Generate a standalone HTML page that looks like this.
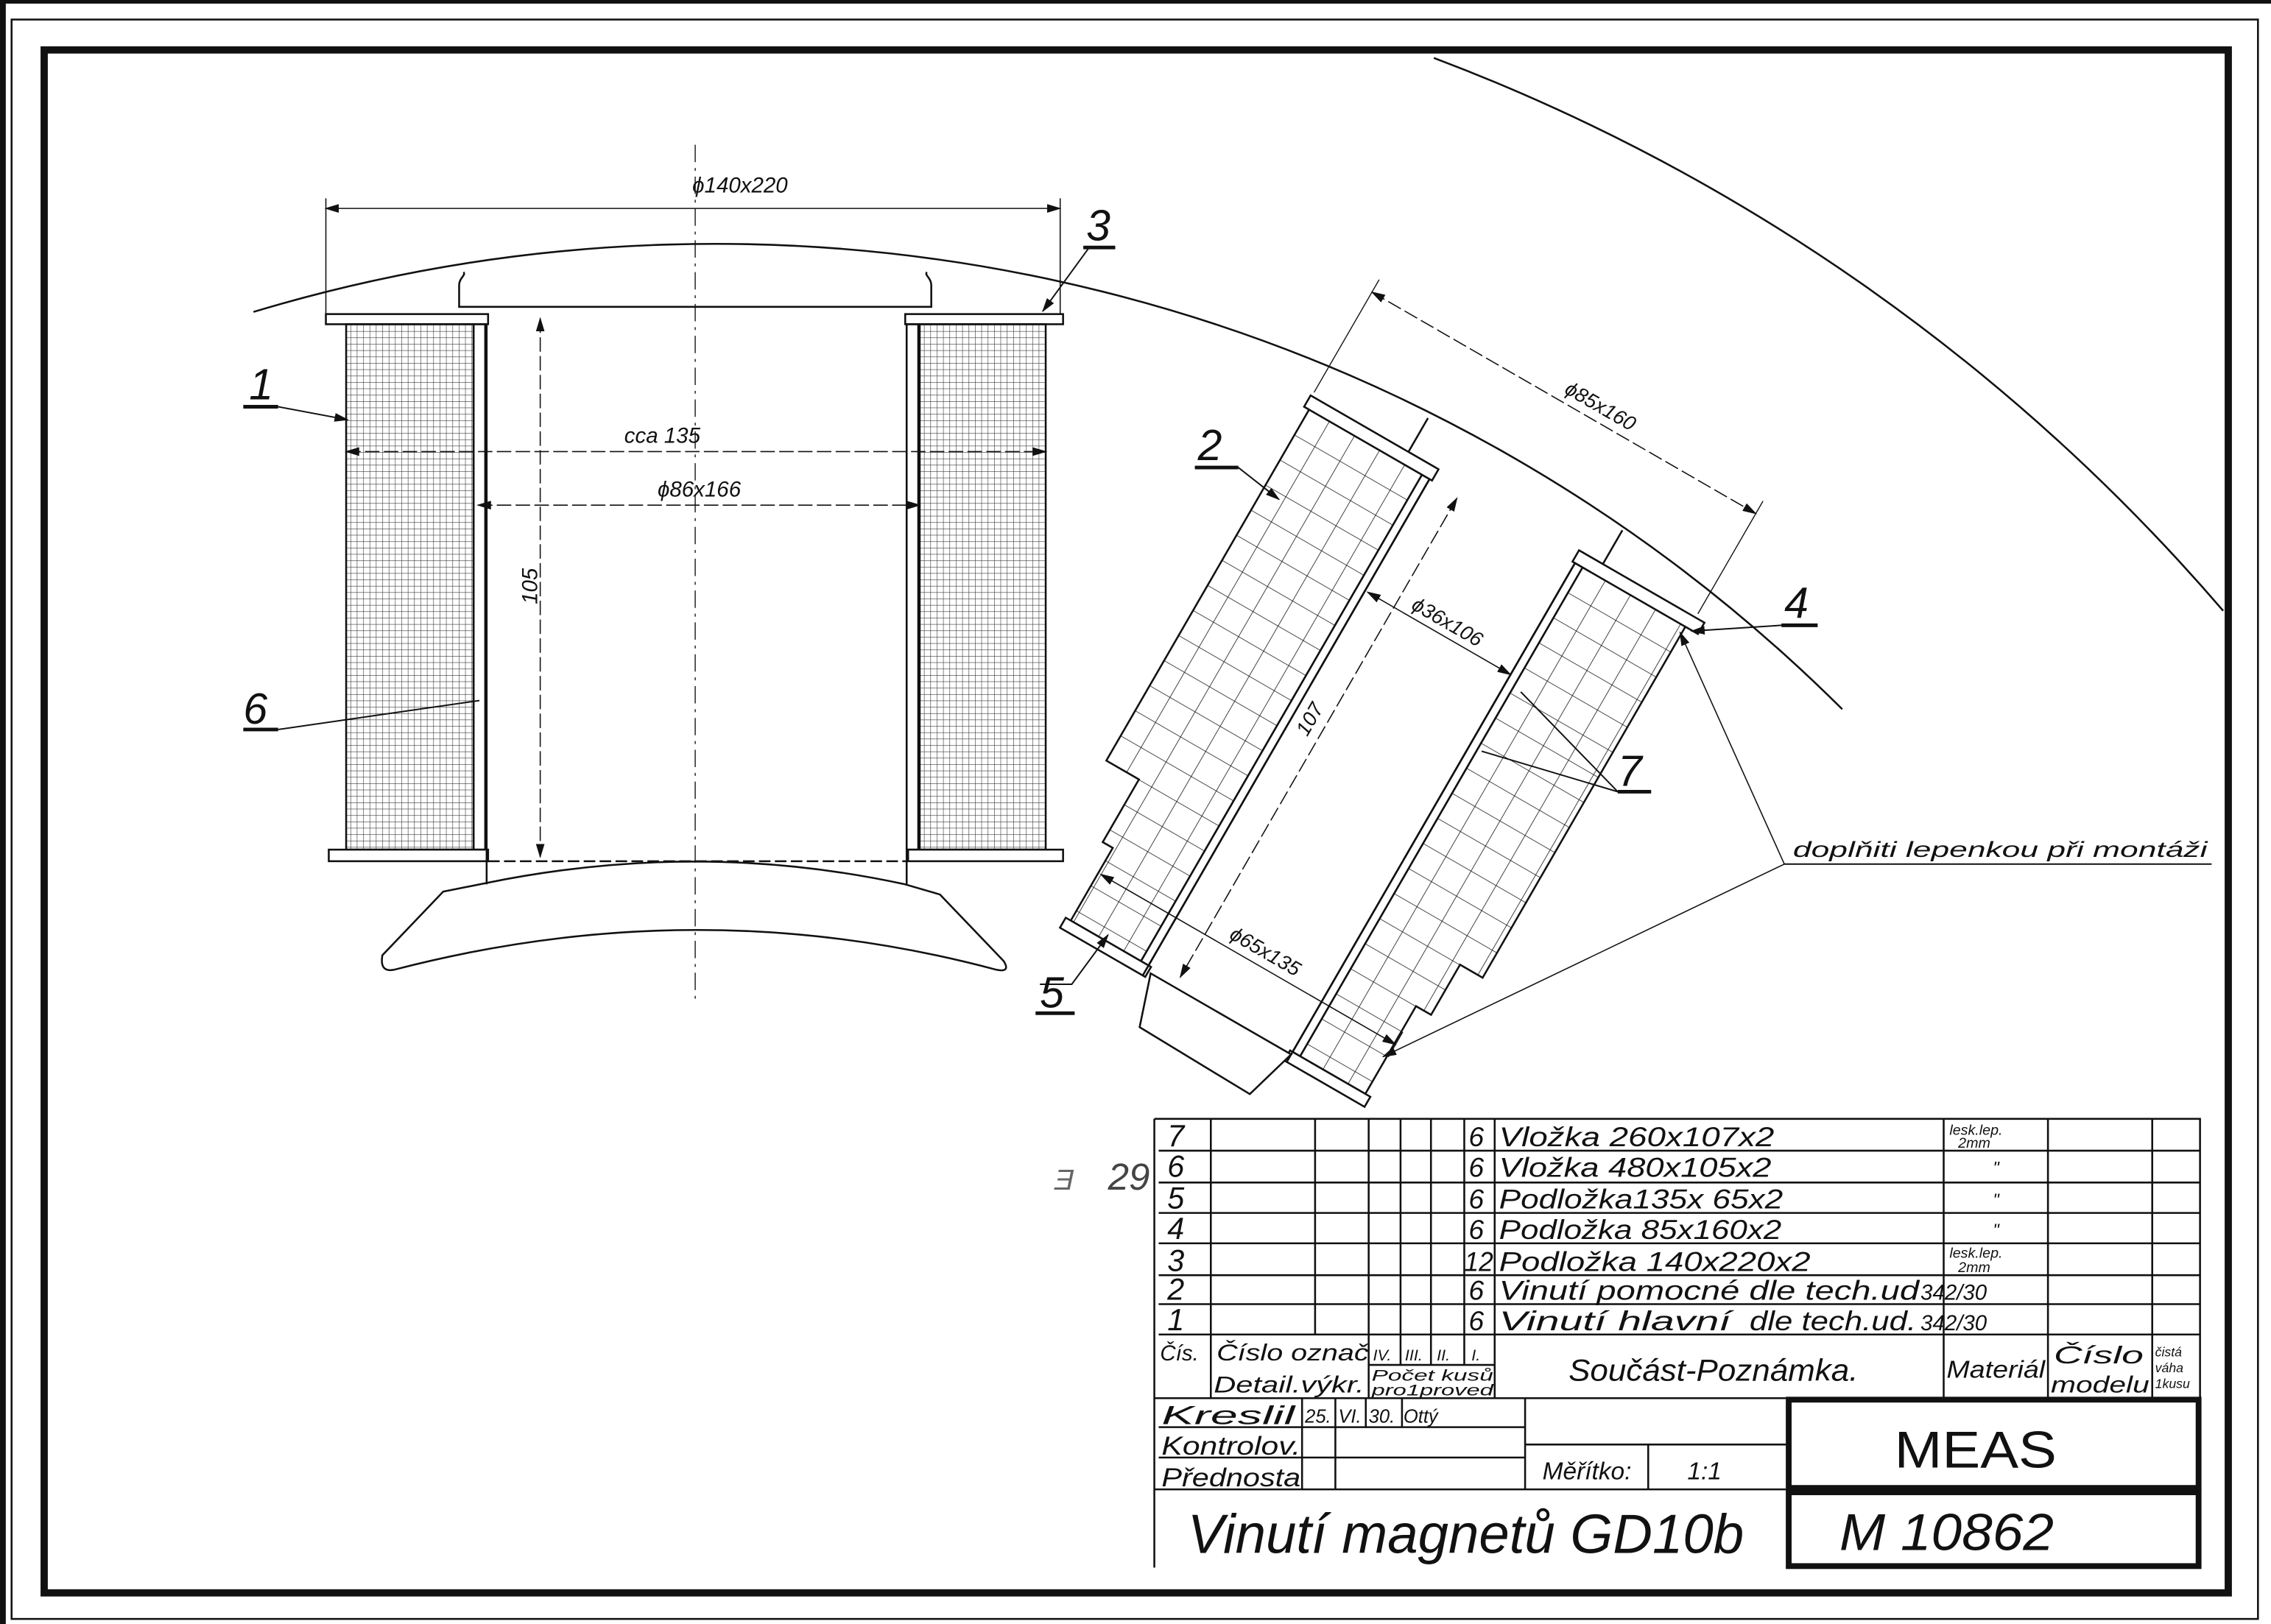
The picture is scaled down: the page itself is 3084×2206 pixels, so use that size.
<!DOCTYPE html>
<html><head><meta charset="utf-8">
<style>
html,body{margin:0;padding:0;background:#fff;}
svg{display:block;}
text{font-family:"Liberation Sans",sans-serif;font-style:italic;fill:#111;}
</style></head>
<body>
<svg xmlns="http://www.w3.org/2000/svg" width="3084" height="2206" viewBox="0 0 1568 1122" preserveAspectRatio="none">
<defs>
<pattern id="fine" width="4.4" height="4.4" patternUnits="userSpaceOnUse">
<rect width="4.4" height="4.4" fill="#fff"/>
<path d="M0 0H4.4M0 0V4.4" stroke="#333" stroke-width="0.6"/>
</pattern>
<pattern id="big" width="20" height="20" patternUnits="userSpaceOnUse" x="0" y="0">
<rect width="20" height="20" fill="#fff"/>
<path d="M0 0H20M0 0V20" stroke="#111" stroke-width="0.8"/>
</pattern>
<marker id="ar" markerWidth="10" markerHeight="8" refX="9" refY="4" orient="auto" markerUnits="userSpaceOnUse">
<path d="M0 1 L10 4 L0 7 z" fill="#111"/>
</marker>
<marker id="as" markerWidth="10" markerHeight="8" refX="1" refY="4" orient="auto" markerUnits="userSpaceOnUse">
<path d="M10 1 L0 4 L10 7 z" fill="#111"/>
</marker>
</defs>
<rect width="1568" height="1122" fill="#fff"/>
<rect x="0" y="0" width="1568" height="2.5" fill="#111"/>
<rect x="0" y="0" width="4" height="1122" fill="#111"/>
<rect x="8" y="13.5" width="1551" height="1105" fill="none" stroke="#111" stroke-width="1.3"/>
<rect x="30.5" y="34.5" width="1508" height="1066" fill="none" stroke="#111" stroke-width="5"/>

<g fill="none" stroke="#111" stroke-width="1.3">
<path d="M175 215.5 A1103 1103 0 0 1 1272 490"/>
<path d="M990 40 A1345 1345 0 0 1 1535 422"/>
<path d="M480 100 V690" stroke-dasharray="12 4 2 4" stroke-width="0.7"/>

<path d="M317 197 C317 192 322 190 320 188 M317 197 V212 H643 V197 M643 197 C643 192 638 190 640 188"/>
<rect x="225" y="217" width="112" height="7" fill="#fff"/>
<rect x="625" y="217" width="109" height="7" fill="#fff"/>
<rect x="239" y="224" width="88" height="363" fill="url(#fine)"/>
<rect x="635" y="224" width="87" height="363" fill="url(#fine)"/>
<rect x="327" y="224" width="8" height="363"/>
<rect x="626" y="224" width="8" height="363"/>
<rect x="227" y="587" width="110" height="8" fill="#fff"/>
<rect x="627" y="587" width="107" height="8" fill="#fff"/>
<path d="M336 224 V611 M626 224 V611"/>
<path d="M337 595 H626" stroke-dasharray="8 3"/>
<path d="M336 610 Q483 580 625 611 L649 618 L693 664 Q698 672 688 670 Q483 615 272 670 Q262 672 264 660 L306 616 Z"/>
<path d="M225 144 H732" marker-start="url(#as)" marker-end="url(#ar)" stroke-width="0.8"/>
<path d="M225 137 V217 M732 137 V217" stroke-width="0.8"/>
<path d="M239 312 H722" marker-start="url(#as)" marker-end="url(#ar)" stroke-width="0.8" stroke-dasharray="10 3"/>
<path d="M330 349 H635" marker-start="url(#as)" marker-end="url(#ar)" stroke-width="0.8" stroke-dasharray="10 3"/>
<path d="M373 220 V592" marker-start="url(#as)" marker-end="url(#ar)" stroke-width="0.8" stroke-dasharray="10 3"/>
<path d="M168 281 H192 L240 290" marker-end="url(#ar)" stroke-width="1"/>
<path d="M168 504 H192 L331 484" stroke-width="1"/>
<path d="M748 171 H770 M752 171 L720 215" marker-end="url(#ar)" stroke-width="1"/>

<g transform="translate(987 331) rotate(30)">
<path d="M-22 -36 V-9 H0 M133 -36 V-9 H116"/>
<polygon points="-96,0 -6,0 -6,388 -62,388 -62,330 -70,330 -70,280 -96,280" fill="url(#big)"/>
<polygon points="122,0 204,0 204,280 186,280 186,320 174,320 174,390 122,390" fill="url(#big)"/>
<rect x="-6" y="0" width="6" height="388" fill="#fff"/>
<rect x="116" y="0" width="6" height="390" fill="#fff"/>
<rect x="-100" y="-9" width="102" height="9" fill="#fff"/>
<rect x="114" y="-9" width="100" height="9" fill="#fff"/>
<rect x="-66" y="388" width="68" height="8" fill="#fff"/>
<rect x="114" y="390" width="64" height="8" fill="#fff"/>
<path d="M0 0 V396 M116 0 V398"/>
<polygon points="4,392 16,428 105,430 116,392" fill="#fff"/>
<path d="M-99 -12 V-102 M207 -12 V-102" stroke-width="0.7"/>
<path d="M-99 -92 H207" marker-start="url(#as)" marker-end="url(#ar)" stroke-width="0.8" stroke-dasharray="10 3"/>
<path d="M23 2 V384" marker-start="url(#as)" marker-end="url(#ar)" stroke-width="0.8" stroke-dasharray="10 3"/>
<path d="M2 89 H116" marker-start="url(#as)" marker-end="url(#ar)" stroke-width="0.8"/>
<path d="M-60 350 H175" marker-start="url(#as)" marker-end="url(#ar)" stroke-width="0.8"/>
<path d="M-62 335 V360 M175 340 V360" stroke-width="0.7"/>
<text x="77" y="-98" font-size="14" text-anchor="middle" stroke="none">ϕ85x160</text>
<text x="60" y="84" font-size="14" text-anchor="middle" stroke="none">ϕ36x106</text>
<text x="65" y="344" font-size="14" text-anchor="middle" stroke="none">ϕ65x135</text>
<text transform="translate(16 185) rotate(-90)" font-size="14" text-anchor="middle" stroke="none">107</text>
</g>
<path d="M825 323 H855 L883 345" marker-end="url(#ar)" stroke-width="1"/>
<path d="M1252 432 H1230 L1168 436" marker-end="url(#ar)" stroke-width="1"/>
<path d="M1140 547 H1117 L1023 519 M1117 547 L1050 478" stroke-width="1"/>
<path d="M765 646 L740 680 H718" marker-start="url(#as)" stroke-width="1"/>
<path d="M1232 597 H1527" stroke-width="1"/>
<path d="M1232 597 L1160 437" marker-end="url(#ar)" stroke-width="0.8"/>
<path d="M1232 597 L955 730" marker-end="url(#ar)" stroke-width="0.8"/>
<path d="M168 281 H192 M168 504 H192 M748 171 H770 M825 323 H855 M1230 432 H1255 M1117 547 H1140 M715 700 H742" stroke-width="2.5"/>
</g>

<g font-size="30" stroke="none">
<text x="172" y="276">1</text>
<text x="827" y="318">2</text>
<text x="750" y="166">3</text>
<text x="1232" y="427">4</text>
<text x="718" y="696">5</text>
<text x="168" y="500">6</text>
<text x="1117" y="543">7</text>
</g>
<g font-size="15">
<text x="478" y="133">ϕ140x220</text>
<text x="431" y="306">cca 135</text>
<text x="454" y="343">ϕ86x166</text>
<text transform="translate(371 405) rotate(-90)" text-anchor="middle">105</text>
<text x="1238" y="592" font-size="15" textLength="286" lengthAdjust="spacingAndGlyphs">doplňiti lepenkou při montáži</text>
</g>
<text x="728" y="822" font-size="20" style="fill:#666">Ǝ</text>
<text x="765" y="822" font-size="26" style="fill:#444">29</text>

<g fill="none" stroke="#111" stroke-width="1.3">
<path d="M797 773 H1519 V966 M797 773 V1083"/>
<path d="M800 795 H1519 M800 817 H1519 M800 838 H1519 M800 859 H1519 M800 881 H1519 M800 901 H1519 M800 922 H1519 M797 966 H1233"/>
<path d="M836 773 V966 M908 773 V922 M945 773 V966 M967 773 V943 M988 773 V943 M1011 773 V943 M1032 773 V966 M1342 773 V966 M1414 773 V966 M1486 773 V966"/>
<path d="M945 943 H1032"/>
<path d="M800 986 H1053 M800 1007 H1053 M1053 998 H1233 M797 1029 H1233"/>
<path d="M899 966 V1029 M922 966 V1029 M943 966 V986 M968 966 V986 M1053 966 V1029 M1138 998 V1029"/>
<rect x="1235" y="967" width="283" height="61" stroke-width="4"/>
<rect x="1235" y="1031" width="283" height="51" stroke-width="4"/>
</g>
<g font-size="19" font-family="Liberation Sans">
<text x="806" y="792" font-size="21">7</text><text x="806" y="813" font-size="21">6</text><text x="806" y="835" font-size="21">5</text><text x="806" y="856" font-size="21">4</text><text x="806" y="878" font-size="21">3</text><text x="806" y="898" font-size="21">2</text><text x="806" y="919" font-size="21">1</text>
<text x="1014" y="792">6</text><text x="1014" y="813">6</text><text x="1014" y="835">6</text><text x="1014" y="856">6</text><text x="1011" y="878" textLength="20" lengthAdjust="spacingAndGlyphs">12</text><text x="1014" y="898">6</text><text x="1014" y="919">6</text>
<text x="1035" y="792" textLength="190" lengthAdjust="spacingAndGlyphs">Vložka 260x107x2</text>
<text x="1035" y="813" textLength="188" lengthAdjust="spacingAndGlyphs">Vložka  480x105x2</text>
<text x="1035" y="835" textLength="196" lengthAdjust="spacingAndGlyphs">Podložka135x 65x2</text>
<text x="1035" y="856" textLength="195" lengthAdjust="spacingAndGlyphs">Podložka 85x160x2</text>
<text x="1035" y="878" textLength="215" lengthAdjust="spacingAndGlyphs">Podložka  140x220x2</text>
<text x="1035" y="898" textLength="290" lengthAdjust="spacingAndGlyphs">Vinutí pomocné  dle tech.ud</text>
<text x="1035" y="919" textLength="160" lengthAdjust="spacingAndGlyphs">Vinutí hlavní</text>
<text x="1208" y="919" textLength="115" lengthAdjust="spacingAndGlyphs">dle tech.ud.</text>
<text x="1326" y="898" font-size="15">342/30</text>
<text x="1326" y="919" font-size="15">342/30</text>
<text x="1346" y="784" font-size="10">lesk.lep.</text><text x="1352" y="793" font-size="10">2mm</text>
<text x="1346" y="869" font-size="10">lesk.lep.</text><text x="1352" y="879" font-size="10">2mm</text>
<text x="1376" y="811" font-size="12">"</text><text x="1376" y="833" font-size="12">"</text><text x="1376" y="854" font-size="12">"</text>
<text x="801" y="940" font-size="15">Čís.</text>
<text x="840" y="940" font-size="16" textLength="105" lengthAdjust="spacingAndGlyphs">Číslo  označ</text>
<text x="838" y="962" font-size="16" textLength="104" lengthAdjust="spacingAndGlyphs">Detail.výkr.</text>
<text x="948" y="940" font-size="11">IV.</text><text x="970" y="940" font-size="11">III.</text><text x="992" y="940" font-size="11">II.</text><text x="1016" y="940" font-size="11">I.</text>
<text x="947" y="954" font-size="11" textLength="84" lengthAdjust="spacingAndGlyphs">Počet kusů</text>
<text x="947" y="964" font-size="11" textLength="84" lengthAdjust="spacingAndGlyphs">pro1proved</text>
<text x="1083" y="954" font-size="21" textLength="200" lengthAdjust="spacingAndGlyphs">Součást-Poznámka.</text>
<text x="1344" y="952" font-size="17" textLength="68" lengthAdjust="spacingAndGlyphs">Materiál</text>
<text x="1418" y="942" font-size="17" textLength="62" lengthAdjust="spacingAndGlyphs">Číslo</text>
<text x="1416" y="962" font-size="16" textLength="68" lengthAdjust="spacingAndGlyphs">modelu</text>
<text x="1488" y="937" font-size="9">čistá</text><text x="1488" y="948" font-size="9">váha</text><text x="1488" y="959" font-size="9">1kusu</text>
<text x="802" y="984" font-size="18" textLength="92" lengthAdjust="spacingAndGlyphs">Kreslil</text>
<text x="802" y="1005" font-size="18" textLength="96" lengthAdjust="spacingAndGlyphs">Kontrolov.</text>
<text x="802" y="1027" font-size="18" textLength="96" lengthAdjust="spacingAndGlyphs">Přednosta</text>
<text x="901" y="983" font-size="13">25.</text><text x="924" y="983" font-size="13">VI.</text><text x="945" y="983" font-size="13">30.</text><text x="969" y="983" font-size="13">Ottý</text>
<text x="1065" y="1022" font-size="17">Měřítko:</text>
<text x="1165" y="1022" font-size="17">1:1</text>
<text x="820" y="1073" font-size="38" textLength="384" lengthAdjust="spacingAndGlyphs">Vinutí  magnetů  GD10b</text>
<text x="1308" y="1014" font-size="36" style="font-style:normal" textLength="112" lengthAdjust="spacingAndGlyphs">MEAS</text>
<text x="1270" y="1071" font-size="36" textLength="148" lengthAdjust="spacingAndGlyphs">M  10862</text>
</g>
</svg>
</body></html>
